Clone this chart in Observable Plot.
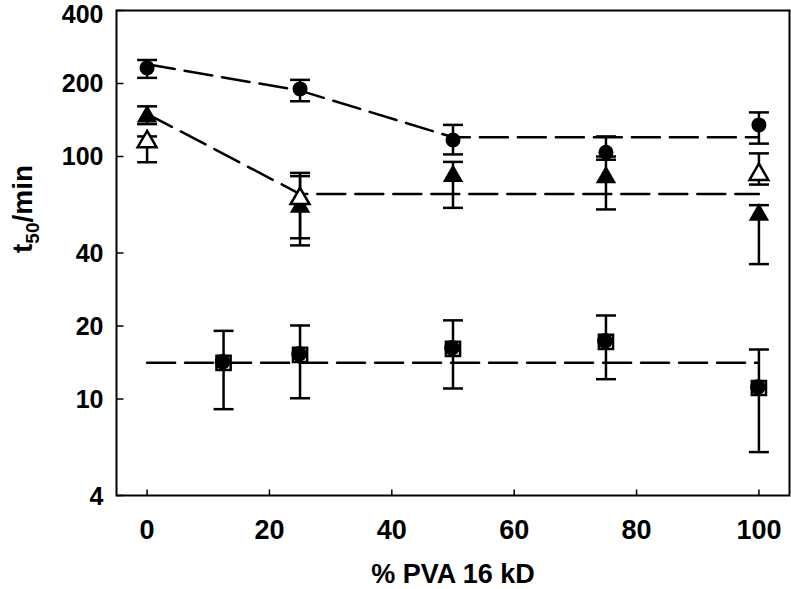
<!DOCTYPE html>
<html>
<head>
<meta charset="utf-8">
<script src="https://cdn.jsdelivr.net/npm/d3@7"></script>
<script src="https://cdn.jsdelivr.net/npm/@observablehq/plot@0.6"></script>
<style>
  html, body { margin: 0; padding: 0; background: #fff; }
</style>
</head>
<body>
<div id="chart"></div>
<script>
// ---- data ----
const xTicks = [0, 20, 40, 60, 80, 100];
const yTicks = [4, 10, 20, 40, 100, 200, 400];

// filled circles
const circX  = [0, 25, 50, 75, 100];
const circY  = [232, 190, 117, 104, 135];
const circLo = [211, 169, 102, 97, 113];
const circHi = [250, 207, 135, 121, 152];

// filled triangles
const ftriX  = [0, 25, 50, 75, 100];
const ftriY  = [146, 62, 83, 82, 57.5];
const ftriLo = [136, 43, 61.4, 60.5, 36];
const ftriHi = [161, 83, 95, 100, 63];

// open triangles
const otriX  = [0, 25, 100];
const otriY  = [115, 67, 84.3];
const otriLo = [94.7, 46, 76.6];
const otriHi = [121, 85.6, 103];

// squares
const sqX  = [12.5, 25, 50, 75, 100];
const sqY  = [14.1, 15.2, 16.1, 17.2, 11.1];
const sqLo = [9.08, 10.07, 11.05, 12.07, 6.04];
const sqHi = [19.1, 20.1, 21.1, 22.1, 16.0];

// dashed fit lines
const circFitX = [0, 25, 50, 100];
const circFitY = [240, 187, 120, 120];
const triFitX  = [0, 25, 100];
const triFitY  = [150, 70, 70];
const sqFitX   = [0, 100];
const sqFitY   = [14.1, 14.1];

const xTitle = "% PVA 16 kD";
const yTitleParts = ["t", "50", "/min"];
const yTitle = yTitleParts.join("");

// ---- tables ----
const tbl = (xs, ys, lo, hi) => xs.map((x, i) => ({x, y: ys[i], lo: lo ? lo[i] : null, hi: hi ? hi[i] : null}));
const circ = tbl(circX, circY, circLo, circHi);
const ftri = tbl(ftriX, ftriY, ftriLo, ftriHi);
const otri = tbl(otriX, otriY, otriLo, otriHi);
const sq   = tbl(sqX, sqY, sqLo, sqHi);
const circFit = tbl(circFitX, circFitY);
const triFit  = tbl(triFitX, triFitY);
const sqFit   = tbl(sqFitX, sqFitY);

// custom symbols
const capSym = {draw(ctx) { ctx.moveTo(-10, 0); ctx.lineTo(10, 0); }};
const yTickSym = {draw(ctx) { ctx.moveTo(0, 0); ctx.lineTo(7, 0); }};
const xTickSym = {draw(ctx) { ctx.moveTo(0, 0); ctx.lineTo(0, -6); }};

const ff = "'Liberation Sans', Arial, Helvetica, sans-serif";

const errMarks = (data) => [
  Plot.ruleX(data, {x: "x", y1: "lo", y2: "hi", stroke: "black", strokeWidth: 2.5}),
  Plot.dot(data, {x: "x", y: "lo", symbol: capSym, stroke: "black", fill: "none", strokeWidth: 2.5}),
  Plot.dot(data, {x: "x", y: "hi", symbol: capSym, stroke: "black", fill: "none", strokeWidth: 2.5})
];

const dash = {stroke: "black", strokeWidth: 2.5, strokeDasharray: "28,10"};
const yLab = {tickSize: 0, tickPadding: 13, tickFormat: d => String(d), fontSize: 25, fontWeight: "bold", fill: "black", label: null};

const chart = Plot.plot({
  width: 791,
  height: 589,
  marginLeft: 116,
  marginRight: 2,
  marginTop: 10,
  marginBottom: 94,
  x: {domain: [-5, 105]},
  y: {type: "log", domain: [4, 400]},
  style: {fontFamily: ff, background: "white", color: "black"},
  marks: [
    Plot.axisY(yTicks.slice(0, -1), {...yLab, dy: 1}),
    Plot.axisY(yTicks.slice(-1), {...yLab, dy: 4}),
    Plot.axisX(xTicks, {tickSize: 0, tickPadding: 24, tickFormat: d => String(d), fontSize: 27, fontWeight: "bold", fill: "black", label: null}),
    Plot.dot(yTicks, {y: d => d, frameAnchor: "left", symbol: yTickSym, stroke: "black", fill: "none", strokeWidth: 1.5}),
    Plot.dot(xTicks, {x: d => d, frameAnchor: "bottom", symbol: xTickSym, stroke: "black", fill: "none", strokeWidth: 1.5}),
    Plot.frame({stroke: "black", strokeWidth: 2}),
    // fit lines
    Plot.line(circFit, {x: "x", y: "y", ...dash}),
    Plot.line(triFit, {x: "x", y: "y", ...dash}),
    Plot.line(sqFit, {x: "x", y: "y", ...dash}),
    // error bars
    ...errMarks(circ),
    ...errMarks(ftri),
    ...errMarks(otri),
    ...errMarks(sq),
    // markers
    Plot.dot(circ, {x: "x", y: "y", r: 7.5, fill: "black", stroke: "none"}),
    Plot.dot(ftri, {x: "x", y: "y", r: 7.6, symbol: "triangle", fill: "black", stroke: "none"}),
    Plot.dot(otri, {x: "x", y: "y", r: 7.0, symbol: "triangle", fill: "white", stroke: "black", strokeWidth: 2.5}),
    Plot.dot(sq, {x: "x", y: "y", r: 8, symbol: "square", fill: "white", stroke: "black", strokeWidth: 2.5}),
    Plot.dot(sq, {x: "x", y: "y", r: 7.8, dx: -1, dy: -1, fill: "black", stroke: "none"}),
    // titles
    Plot.text([xTitle], {text: d => d, frameAnchor: "bottom", dy: 87, fontSize: 27, fontWeight: "bold", fill: "black"}),
    Plot.text([yTitle], {text: d => d, frameAnchor: "left", dx: -93, rotate: -90, fontSize: 28, fontWeight: "bold", fill: "black"})
  ]
});

// subscript in the y title
d3.select(chart).selectAll("text")
  .filter(function() { return this.textContent === yTitle; })
  .each(function() {
    const t = d3.select(this);
    t.text(null);
    t.append("tspan").text(yTitleParts[0]);
    t.append("tspan").attr("font-size", 19).attr("dy", 7).text(yTitleParts[1]);
    t.append("tspan").attr("dy", -7).text(yTitleParts[2]);
  });

document.getElementById("chart").appendChild(chart);
</script>
</body>
</html>
